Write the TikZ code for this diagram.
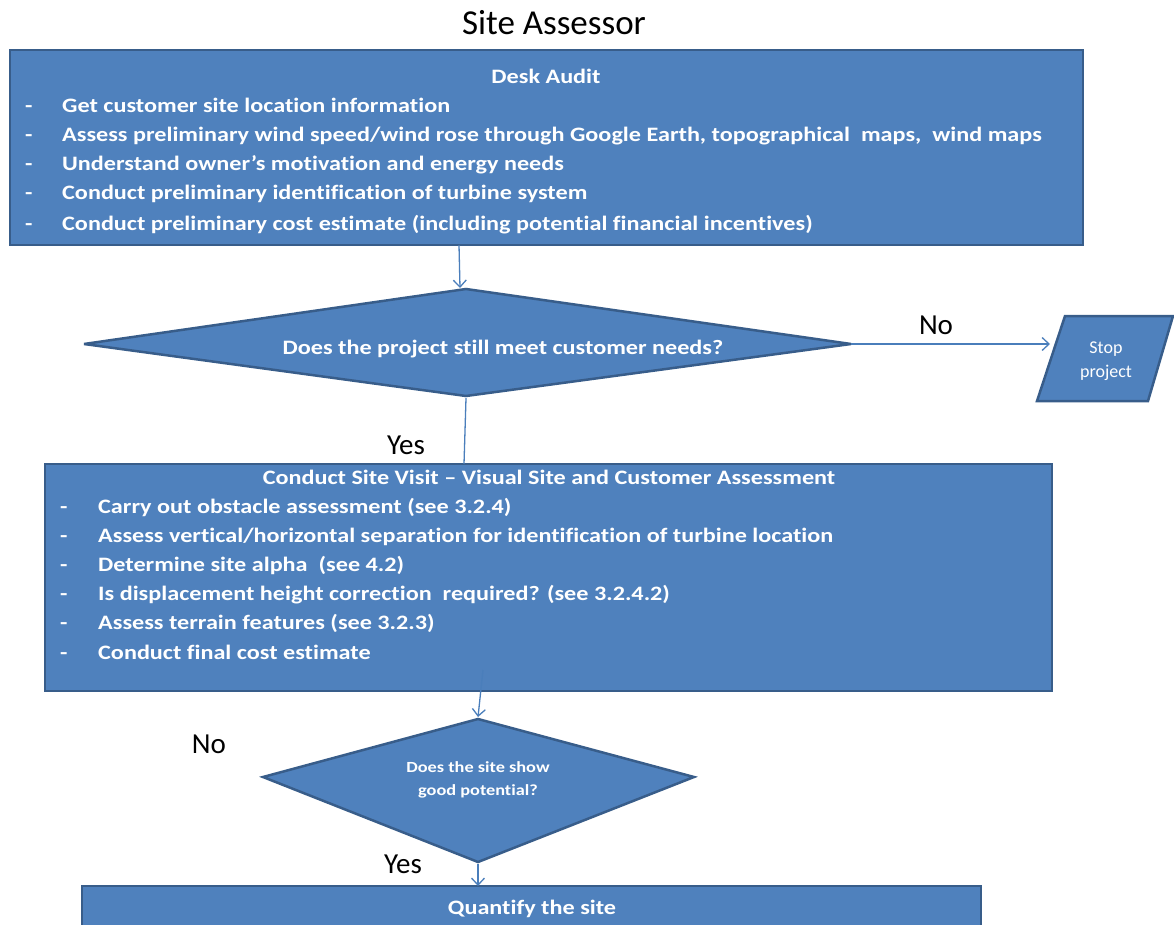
\documentclass[tikz,border=0pt]{standalone}
\usepackage{fontspec}
\setmainfont[Ligatures=NoCommon]{Carlito}
\newfontfamily\widefont[FakeStretch=1.18,Ligatures=NoCommon]{Carlito}
\usetikzlibrary{arrows.meta,calc}
\definecolor{boxfill}{HTML}{4F81BD}
\definecolor{boxline}{HTML}{385D8A}
\definecolor{arrowc}{HTML}{4A7EBB}
\tikzset{
  procbox/.style={draw=boxline,fill=boxfill,line width=2.5pt,inner sep=0pt},
  decshape/.style={draw=boxline,fill=boxfill,line width=2.5pt,line join=miter,miter limit=4},
  conn/.style={draw=arrowc,line width=1.3pt},
  arr/.style={conn,-{Straight Barb[length=7pt,width=13pt,line width=1.3pt]}},
  boxtitle/.style={text=white,font=\widefont\fontsize{20.5}{24}\selectfont\bfseries,inner sep=0pt,anchor=base},
  boxitem/.style={text=white,font=\widefont\fontsize{20.5}{24}\selectfont\bfseries,inner sep=0pt,anchor=base west},
  lbl/.style={text=black,font=\fontsize{29}{34}\selectfont,inner sep=0pt,anchor=base},
}
\begin{document}
\begin{tikzpicture}[x=1pt,y=-1pt]
\useasboundingbox (0,0) rectangle (1174,925);
\clip (0,0) rectangle (1174,925);
% title
\node[text=black,font=\fontsize{35}{40}\selectfont,inner sep=0pt,anchor=base] (title) at (554,35) {Site Assessor};
% Box 1
\path[procbox] (10,50) rectangle (1083,245);
\node[boxtitle] (b1t) at (546,84) {Desk Audit};
\foreach \i/\y/\t in {1/113/{Get customer site location information},
  2/142/{Assess preliminary wind speed/wind rose through Google Earth, topographical\ \ maps,\ \ wind maps},
  3/171/{Understand owner’s motivation and energy needs},
  4/200/{Conduct preliminary identification of turbine system},
  5/230/{Conduct preliminary cost estimate (including potential financial incentives)}}{
  \node[boxitem] (b1d\i) at (25,\y) {-};
  \node[boxitem] (b1l\i) at (62,\y) {\t};
}
% Diamond 1
\coordinate (d1n) at (466,289);
\coordinate (d1e) at (851,344);
\coordinate (d1s) at (466,396);
\coordinate (d1w) at (84,344);
\path[decshape] (d1n) -- (d1e) -- (d1s) -- (d1w) -- cycle;
\node[boxtitle] (d1t) at (503,354) {Does the project still meet customer needs?};
% Stop project
\coordinate (p1) at (1065,316);
\coordinate (p2) at (1173,316);
\coordinate (p3) at (1148,401);
\coordinate (p4) at (1037,401);
\path[decshape] (p1) -- (p2) -- (p3) -- (p4) -- cycle;
\node[text=white,font=\fontsize{18}{24}\selectfont,align=center,inner sep=0pt] (stop) at (1106,361) {Stop\\project};
\coordinate (stopw) at (1050,344);
% Box 2
\path[procbox] (45,464) rectangle (1052,691);
\node[boxtitle] (b2t) at (549,484) {Conduct Site Visit – Visual Site and Customer Assessment};
\foreach \i/\y/\t in {1/513/{Carry out obstacle assessment (see 3.2.4)},
  2/542/{Assess vertical/horizontal separation for identification of turbine location},
  3/571/{Determine site alpha\ \ (see 4.2)},
  4/600/{Is displacement height correction\ \ required? (see 3.2.4.2)},
  5/629/{Assess terrain features (see 3.2.3)},
  6/659/{Conduct final cost estimate}}{
  \node[boxitem] (b2d\i) at (60,\y) {-};
  \node[boxitem] (b2l\i) at (98,\y) {\t};
}
% Diamond 2
\coordinate (d2n) at (478,719);
\coordinate (d2e) at (694,777);
\coordinate (d2s) at (478,862);
\coordinate (d2w) at (263,777);
\path[decshape] (d2n) -- (d2e) -- (d2s) -- (d2w) -- cycle;
\node[text=white,font=\widefont\fontsize{15.5}{23}\selectfont\bfseries,align=center,inner sep=0pt] (d2t) at (478,780) {Does the site show\\good potential?};
% Box 3
\path[procbox] (82,886) rectangle (981,945);
\node[boxtitle] (b3t) at (532,914) {Quantify the site};
% labels
\node[lbl] (no1) at (936,334) {No};
\node[lbl] (yes1) at (406,454) {Yes};
\node[lbl] (no2) at (209,753) {No};
\node[lbl] (yes2) at (403,873) {Yes};
% connectors
\coordinate (c1a) at (459,245);
\coordinate (c1b) at (460,288);
\draw[arr] (c1a) -- (c1b);
\draw[arr] (d1e) -- (stopw);
\coordinate (c2a) at (466,398);
\coordinate (c2b) at (464,464);
\draw[conn] (c2a) -- (c2b);
\coordinate (c3a) at (483,670);
\coordinate (c3b) at (478,717);
\draw[arr] (c3a) -- (c3b);
\coordinate (c4a) at (478,864);
\coordinate (c4b) at (478,886);
\draw[arr] (c4a) -- (c4b);
\end{tikzpicture}
\end{document}
